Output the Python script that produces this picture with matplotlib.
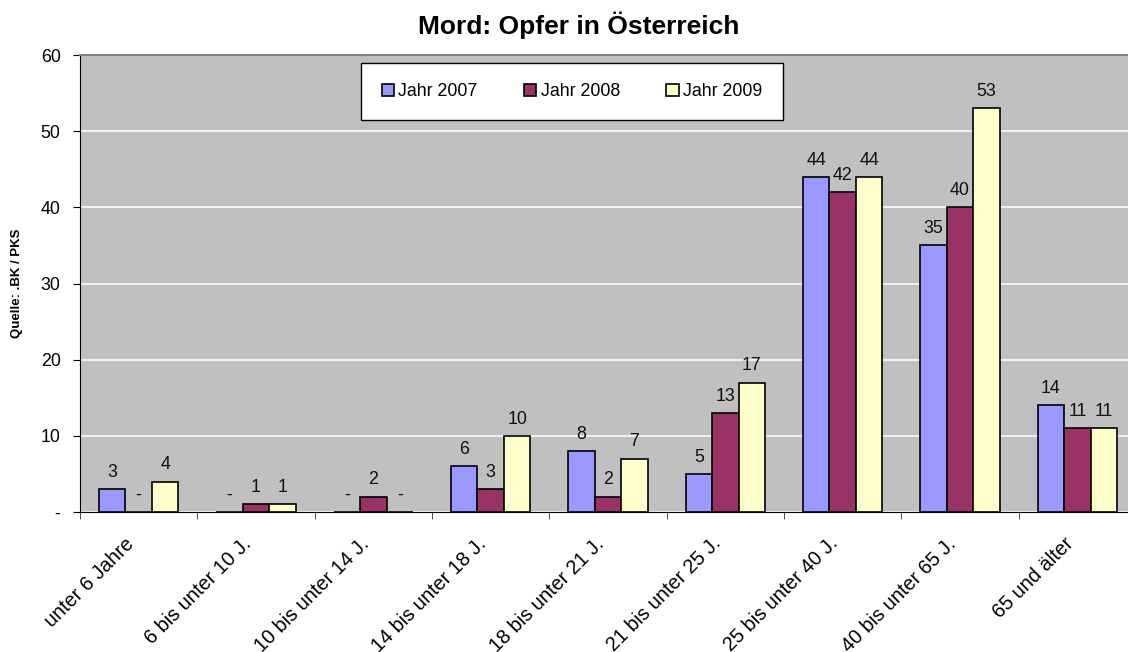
import numpy as np
import matplotlib
matplotlib.use('Agg')
import matplotlib.pyplot as plt
import matplotlib.transforms as mtransforms

plt.rcParams['font.family'] = ['Liberation Sans', 'DejaVu Sans']

categories = ['unter 6 Jahre', '6 bis unter 10 J.', '10 bis unter 14 J.',
              '14 bis unter 18 J.', '18 bis unter 21 J.', '21 bis unter 25 J.',
              '25 bis unter 40 J.', '40 bis unter 65 J.', '65 und älter']
jahr_2007 = [3, 0, 0, 6, 8, 5, 44, 35, 14]
jahr_2008 = [0, 1, 2, 3, 2, 13, 42, 40, 11]
jahr_2009 = [4, 1, 0, 10, 7, 17, 44, 53, 11]
series_names = ['Jahr 2007', 'Jahr 2008', 'Jahr 2009']
y_ticks = [0, 10, 20, 30, 40, 50, 60]
y_ticklabels = ['-', '10', '20', '30', '40', '50', '60']

colors = ['#9999FF', '#993366', '#FFFFCC']

W, H = 1128, 652
fig = plt.figure(figsize=(W / 100, H / 100), dpi=100)
ax = fig.add_axes([80 / W, (H - 512) / H, (1136 - 80) / W, 457 / H])
ax.set_facecolor('#C0C0C0')

x = np.arange(len(categories))
bw = 0.226
fs = 12.8
for i, (vals, name) in enumerate(zip([jahr_2007, jahr_2008, jahr_2009], series_names)):
    pos = x + (i - 1) * bw
    bars = ax.bar(pos, vals, bw, color=colors[i], edgecolor='black', linewidth=1.2,
                  label=name, zorder=3)
    for b, v in zip(bars, vals):
        ax.annotate('-' if v == 0 else str(v),
                    (b.get_x() + b.get_width() / 2, v),
                    xytext=(0, 6), textcoords='offset points',
                    ha='center', va='bottom', fontsize=fs, color='#111111')

ax.set_xlim(-0.5, len(categories) - 0.5)
ax.set_ylim(0, 60)
ax.set_yticks(y_ticks)
ax.set_yticklabels(y_ticklabels, fontsize=fs)
ax.yaxis.grid(True, color='white', linewidth=1.1, zorder=0)
ax.set_axisbelow(True)

# category labels placed by hand so they can sit a bit left of the centre
ax.set_xticks(x)
ax.set_xticklabels([])
ax.tick_params(axis='x', which='major', length=0)
shift = mtransforms.ScaledTranslation(-14 / 100, -22 / 100, fig.dpi_scale_trans)
for i, c in enumerate(categories):
    ax.text(i, 0, c, transform=ax.get_xaxis_transform() + shift, rotation=45,
            ha='right', va='top', rotation_mode='anchor', fontsize=14.3)

ax.set_xticks(np.arange(len(categories) + 1) - 0.5, minor=True)
ax.tick_params(axis='x', which='minor', length=5, color='#333333')
ax.tick_params(axis='y', length=5, pad=9)

ax.spines['top'].set_color('#808080')
ax.spines['top'].set_linewidth(1.5)
ax.spines['right'].set_visible(False)
ax.spines['left'].set_color('black')
ax.spines['bottom'].set_color('black')

fig.text(579 / W, 1 - 25 / H, 'Mord: Opfer in Österreich', ha='center', va='center',
         fontsize=19, fontweight='bold')
fig.text(17 / W, 1 - 283 / H, 'Quelle: .BK / PKS', rotation=90, ha='center', va='center',
         fontsize=9.5, fontweight='bold')

leg = ax.legend(loc='center', bbox_to_anchor=(572 / W, 1 - 91.5 / H),
                bbox_transform=fig.transFigure, ncol=3, fontsize=fs,
                handlelength=0.7, handleheight=0.7, handletextpad=0.25,
                columnspacing=2.6, borderpad=1.15, fancybox=False, framealpha=1,
                edgecolor='black')
leg.get_frame().set_linewidth(1.0)
leg.set_zorder(5)

fig.savefig('out.png', dpi=100)
